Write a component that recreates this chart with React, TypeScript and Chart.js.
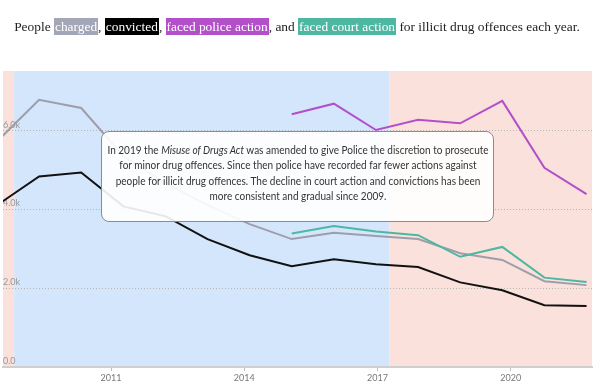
import React, { useEffect, useRef } from "react";
import { Chart, registerables } from "chart.js";

Chart.register(...registerables);

// ---- Data ----
const years = [2008, 2009, 2010, 2011, 2012, 2013, 2014, 2015, 2016, 2017, 2018, 2019, 2020, 2021, 2022];
const charged = [5730, 6790, 6580, 5360, 4670, 4110, 3630, 3250, 3410, 3330, 3250, 2890, 2720, 2180, 2080];
const convicted = [4110, 4840, 4940, 4080, 3830, 3250, 2840, 2560, 2740, 2610, 2540, 2150, 1950, 1570, 1550];
const policeAction = [null, null, null, null, null, null, null, 6420, 6690, 6020, 6280, 6190, 6760, 5060, 4390];
const courtAction = [null, null, null, null, null, null, null, 3390, 3580, 3440, 3350, 2800, 3050, 2270, 2160];

const xTickYears = [2011, 2014, 2017, 2020];
const yTickValues = [0, 2000, 4000, 6000];
const bandBreaks = [2008.82, 2017.27];

const COLORS = {
  charged: "#9d9eab",
  convicted: "#111111",
  police: "#b24fc9",
  court: "#4db7a1",
  pink: "#fae1dc",
  blue: "#d4e6fb",
};

const bandsPlugin = {
  id: "bands",
  beforeDraw(chart: any) {
    const { ctx, chartArea } = chart;
    const sx = chart.scales.xYear;
    const edges = [chartArea.left, ...bandBreaks.map((b) => sx.getPixelForValue(b)), chartArea.right];
    const fills = [COLORS.pink, COLORS.blue, COLORS.pink];
    ctx.save();
    for (let i = 0; i < fills.length; i++) {
      ctx.fillStyle = fills[i];
      ctx.fillRect(edges[i], chartArea.top, edges[i + 1] - edges[i], chartArea.bottom - chartArea.top);
    }
    ctx.restore();
  },
};

function series(values: (number | null)[]) {
  return years.map((y, i) => ({ x: y, y: values[i] }));
}

export default function App() {
  const ref = useRef<HTMLCanvasElement | null>(null);

  useEffect(() => {
    if (!ref.current) return;
    const lineBase = { borderWidth: 2, pointRadius: 0, pointHoverRadius: 0, tension: 0, fill: false, clip: 0, spanGaps: false };
    const chart = new Chart(ref.current, {
      type: "line",
      data: {
        datasets: [
          { ...lineBase, label: "faced court action", data: series(courtAction), borderColor: COLORS.court },
          { ...lineBase, label: "faced police action", data: series(policeAction), borderColor: COLORS.police },
          { ...lineBase, label: "charged", data: series(charged), borderColor: COLORS.charged },
          { ...lineBase, label: "convicted", data: series(convicted), borderColor: COLORS.convicted },
        ] as any,
      },
      options: {
        animation: false,
        responsive: false,
        devicePixelRatio: 1,
        layout: { padding: { top: 71, left: 3, right: 8, bottom: 0 } },
        plugins: { legend: { display: false }, tooltip: { enabled: false }, title: { display: false } },
        events: [],
        scales: {
          x: {
            type: "linear",
            display: false,
            min: 2008.143,
            max: 2022.13,
          },
          xYear: {
            type: "linear",
            position: "bottom",
            min: 2008.568,
            max: 2021.83,
            afterBuildTicks: (s: any) => {
              s.ticks = xTickYears.map((v) => ({ value: v }));
            },
            afterFit: (s: any) => {
              s.height = 19;
            },
            grid: { drawOnChartArea: false, drawTicks: true, tickLength: 4, color: "#bdbdbd" },
            border: { display: true, color: "#cfcfcf", width: 2 },
            ticks: {
              color: "#777",
              padding: 2,
              maxRotation: 0,
              autoSkip: false,
              font: { size: 9, family: "Lato, 'Open Sans', sans-serif" },
              callback: (v: any) => String(v),
            },
          },
          y: {
            type: "linear",
            position: "left",
            min: 0,
            max: 7520,
            afterBuildTicks: (s: any) => {
              s.ticks = yTickValues.map((v) => ({ value: v }));
            },
            afterFit: (s: any) => {
              s.width = 0;
            },
            grid: { drawTicks: false, color: "#b5b5b5", lineWidth: 1 },
            border: { display: false, dash: [1, 2] },
            ticks: {
              mirror: true,
              padding: 0,
              labelOffset: -6,
              color: "#999",
              font: { size: 9, family: "Lato, 'Open Sans', sans-serif" },
              callback: (v: any) => (v === 0 ? "0.0" : (v / 1000).toFixed(1) + "k"),
            },
          },
        } as any,
      },
      plugins: [bandsPlugin],
    });
    return () => chart.destroy();
  }, []);

  const hl = (bg: string) => ({
    background: bg,
    color: "#fff",
    padding: "1px 1px",
  });

  const lineStyle = {
    width: 480,
    marginLeft: -44.5,
    transform: "scaleX(0.835)",
    transformOrigin: "50% 50%",
  };

  return (
    <div style={{ position: "absolute", left: 0, top: 0, width: 600, height: 386, background: "#fff", overflow: "hidden" }}>
      <canvas ref={ref} width={600} height={386} style={{ position: "absolute", left: 0, top: 0, width: 600, height: 386 }} />
      <div
        style={{
          position: "absolute",
          left: 0,
          top: 19,
          width: 594,
          textAlign: "center",
          fontFamily: "'Liberation Serif', 'DejaVu Serif', serif",
          fontSize: 13.4,
          lineHeight: "15px",
          color: "#222",
          whiteSpace: "nowrap",
        }}
      >
        People <span style={hl("#a3a6b7")}>charged</span>, <span style={hl("#000")}>convicted</span>,{" "}
        <span style={hl("#b24fc9")}>faced police action</span>, and{" "}
        <span style={hl("#4db7a1")}>faced court action</span> for illicit drug offences each year.
      </div>
      <div
        style={{
          position: "absolute",
          left: 101,
          top: 131,
          width: 393,
          height: 91,
          boxSizing: "border-box",
          border: "1px solid #8c8c8c",
          borderRadius: 8,
          background: "rgba(255,255,255,0.9)",
          fontFamily: "Lato, 'Open Sans', sans-serif",
          fontSize: 12,
          lineHeight: "15.3px",
          color: "#333",
          textAlign: "center",
          paddingTop: 10,
          whiteSpace: "nowrap",
        }}
      >
        <div style={lineStyle}>
          In 2019 the <i>Misuse of Drugs Act</i> was amended to give Police the discretion to prosecute
        </div>
        <div style={lineStyle}>for minor drug offences. Since then police have recorded far fewer actions against</div>
        <div style={lineStyle}>people for illicit drug offences. The decline in court action and convictions has been</div>
        <div style={lineStyle}>more consistent and gradual since 2009.</div>
      </div>
    </div>
  );
}
